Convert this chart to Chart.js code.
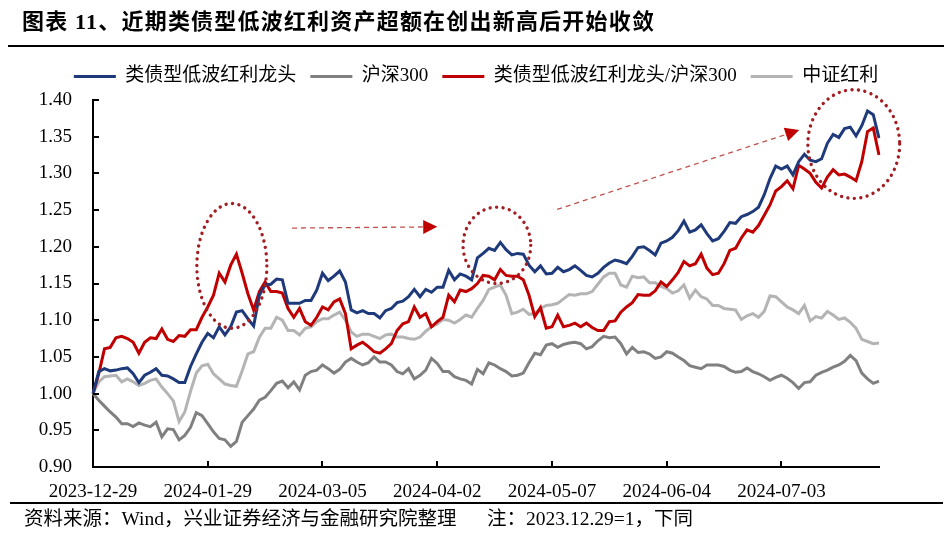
<!DOCTYPE html>
<html>
<head>
<meta charset="utf-8">
<script src="https://cdn.jsdelivr.net/npm/chart.js@4.4.1/dist/chart.umd.min.js"></script>
<style>
    html, body { margin: 0; padding: 0; background: #fff; }
    #wrap { position: relative; width: 952px; height: 535px; overflow: hidden; font-family: 'Liberation Serif', 'Noto Sans CJK SC', serif; color: #000; }
    #title { position: absolute; left: 22px; top: 8px; font-size: 22px; font-weight: bold; letter-spacing: 1.2px; line-height: 28px; white-space: nowrap; }
    .rule { position: absolute; background: #000; }
    #rule1 { left: 8px; width: 936px; top: 45px; height: 2px; }
    #rule2 { left: 10px; width: 933px; top: 502px; height: 1.5px; }
    .note { position: absolute; top: 507px; font-size: 19.5px; line-height: 23px; white-space: nowrap; }
    canvas { position: absolute; left: 0; top: 0; }
</style>
</head>
<body>
<div id="wrap">
    <canvas id="chart" width="952" height="535"></canvas>
    <div id="title">图表 11、近期类债型低波红利资产超额在创出新高后开始收敛</div>
    <div class="rule" id="rule1"></div>
    <div class="rule" id="rule2"></div>
    <div class="note" style="left:24px">资料来源：Wind，兴业证券经济与金融研究院整理</div>
    <div class="note" style="left:487px">注：2023.12.29=1，下同</div>
</div>
<script>
// series values (2023-12-29 = 1)
const bondLikeLowVol = [
    1.000, 1.030, 1.034, 1.031, 1.032, 1.034, 1.035, 1.027, 1.015, 1.025,
    1.029, 1.034, 1.025, 1.024, 1.020, 1.015, 1.015, 1.037, 1.054, 1.070,
    1.082, 1.076, 1.091, 1.080, 1.091, 1.111, 1.113, 1.102, 1.092, 1.134,
    1.148, 1.149, 1.156, 1.155, 1.123, 1.123, 1.123, 1.127, 1.127, 1.141,
    1.164, 1.154, 1.160, 1.167, 1.152, 1.114, 1.110, 1.113, 1.109, 1.109,
    1.103, 1.113, 1.116, 1.124, 1.126, 1.132, 1.142, 1.132, 1.142, 1.138,
    1.145, 1.145, 1.168, 1.155, 1.163, 1.160, 1.155, 1.185, 1.191, 1.198,
    1.195, 1.206, 1.196, 1.189, 1.191, 1.190, 1.175, 1.166, 1.174, 1.163,
    1.164, 1.172, 1.166, 1.169, 1.174, 1.168, 1.161, 1.159, 1.164, 1.172,
    1.178, 1.182, 1.180, 1.177, 1.187, 1.199, 1.200, 1.195, 1.189, 1.205,
    1.208, 1.213, 1.222, 1.235, 1.220, 1.223, 1.230, 1.218, 1.208, 1.211,
    1.221, 1.233, 1.232, 1.241, 1.244, 1.248, 1.254, 1.271, 1.293, 1.310,
    1.306, 1.310, 1.298, 1.316, 1.326, 1.318, 1.316, 1.320, 1.341, 1.353,
    1.349, 1.361, 1.363, 1.351, 1.365, 1.385, 1.380, 1.348
];
const hs300 = [
    1.000, 0.991, 0.983, 0.975, 0.968, 0.959, 0.959, 0.955, 0.960, 0.957,
    0.955, 0.961, 0.941, 0.952, 0.951, 0.937, 0.943, 0.954, 0.974, 0.970,
    0.959, 0.948, 0.939, 0.937, 0.928, 0.935, 0.961, 0.970, 0.979, 0.991,
    0.995, 1.004, 1.014, 1.017, 1.008, 1.016, 1.005, 1.025, 1.030, 1.032,
    1.039, 1.034, 1.028, 1.033, 1.043, 1.048, 1.043, 1.039, 1.042, 1.050,
    1.043, 1.043, 1.039, 1.030, 1.027, 1.034, 1.020, 1.025, 1.032, 1.048,
    1.041, 1.030, 1.030, 1.023, 1.020, 1.018, 1.013, 1.033, 1.027, 1.042,
    1.039, 1.034, 1.030, 1.024, 1.025, 1.028, 1.042, 1.055, 1.053, 1.066,
    1.068, 1.063, 1.067, 1.069, 1.070, 1.068, 1.061, 1.064, 1.072, 1.078,
    1.076, 1.077, 1.068, 1.054, 1.063, 1.056, 1.057, 1.054, 1.048, 1.050,
    1.057, 1.055, 1.050, 1.045, 1.038, 1.036, 1.034, 1.039, 1.039, 1.039,
    1.037, 1.032, 1.029, 1.030, 1.035, 1.030, 1.027, 1.023, 1.018, 1.022,
    1.025, 1.021, 1.015, 1.007, 1.015, 1.016, 1.025, 1.029, 1.032, 1.036,
    1.039, 1.044, 1.052, 1.045, 1.028, 1.020, 1.014, 1.017
];
const relativeToHs300 = [
    1.000, 1.027, 1.061, 1.063, 1.076, 1.078, 1.075, 1.070, 1.055, 1.070,
    1.076, 1.075, 1.088, 1.074, 1.071, 1.079, 1.078, 1.087, 1.087, 1.104,
    1.118, 1.134, 1.164, 1.152, 1.175, 1.190, 1.164, 1.136, 1.114, 1.139,
    1.152, 1.139, 1.139, 1.137, 1.116, 1.104, 1.116, 1.098, 1.093, 1.104,
    1.118, 1.114, 1.125, 1.129, 1.109, 1.061, 1.066, 1.070, 1.064, 1.057,
    1.055, 1.061, 1.068, 1.086, 1.095, 1.098, 1.118, 1.104, 1.109, 1.091,
    1.098, 1.104, 1.134, 1.125, 1.141, 1.139, 1.143, 1.150, 1.161, 1.160,
    1.155, 1.169, 1.161, 1.160, 1.160, 1.155, 1.134, 1.105, 1.117, 1.089,
    1.091, 1.107, 1.091, 1.093, 1.096, 1.091, 1.096, 1.090, 1.086, 1.086,
    1.098, 1.099, 1.111, 1.118, 1.124, 1.135, 1.134, 1.134, 1.140, 1.152,
    1.146, 1.155, 1.165, 1.180, 1.174, 1.177, 1.190, 1.171, 1.162, 1.164,
    1.177, 1.195, 1.198, 1.212, 1.223, 1.220, 1.229, 1.243, 1.257, 1.276,
    1.282, 1.290, 1.279, 1.311, 1.306, 1.300, 1.288, 1.280, 1.295, 1.305,
    1.298, 1.299, 1.295, 1.290, 1.316, 1.357, 1.362, 1.325
];
const csiDividend = [
    1.000, 1.016, 1.023, 1.024, 1.025, 1.016, 1.020, 1.016, 1.011, 1.014,
    1.018, 1.020, 1.009, 1.000, 0.990, 0.962, 0.975, 1.003, 1.028, 1.038,
    1.040, 1.027, 1.020, 1.013, 1.011, 1.010, 1.031, 1.054, 1.057, 1.077,
    1.089, 1.089, 1.104, 1.100, 1.086, 1.086, 1.080, 1.089, 1.091, 1.098,
    1.102, 1.102, 1.107, 1.111, 1.100, 1.084, 1.078, 1.081, 1.081, 1.078,
    1.075, 1.080, 1.081, 1.077, 1.077, 1.075, 1.074, 1.077, 1.085, 1.091,
    1.095, 1.101, 1.100, 1.096, 1.101, 1.107, 1.104, 1.116, 1.127, 1.142,
    1.145, 1.148, 1.134, 1.109, 1.111, 1.115, 1.108, 1.109, 1.116, 1.120,
    1.121, 1.123, 1.129, 1.135, 1.134, 1.136, 1.136, 1.139, 1.149, 1.159,
    1.164, 1.164, 1.148, 1.145, 1.160, 1.158, 1.159, 1.151, 1.151, 1.146,
    1.143, 1.137, 1.140, 1.148, 1.130, 1.141, 1.132, 1.129, 1.120, 1.120,
    1.116, 1.115, 1.114, 1.101, 1.106, 1.109, 1.104, 1.112, 1.133, 1.132,
    1.125, 1.118, 1.114, 1.109, 1.120, 1.099, 1.105, 1.103, 1.112, 1.107,
    1.101, 1.103, 1.097, 1.089, 1.074, 1.071, 1.068, 1.069
];

// x tick labels shown on the axis
const tickDates = ['2023-12-29', '2024-01-29', '2024-03-05', '2024-04-02', '2024-05-07', '2024-06-04', '2024-07-03'];

// trading days (A-share calendar) starting 2023-12-29
const marketHolidays = ['2024-01-01', '2024-02-09', '2024-02-12', '2024-02-13', '2024-02-14', '2024-02-15', '2024-02-16',
    '2024-04-04', '2024-04-05', '2024-05-01', '2024-05-02', '2024-05-03', '2024-06-10'];
const categories = [];
for (let d = new Date(Date.UTC(2023, 11, 29)); categories.length < bondLikeLowVol.length; d.setUTCDate(d.getUTCDate() + 1)) {
    const key = d.toISOString().slice(0, 10);
    const wd = d.getUTCDay();
    if (wd === 0 || wd === 6 || marketHolidays.includes(key)) continue;
    categories.push(key);
}

// annotations, in data units (category index, value)
const highlightEllipses = [
    { x: 24.2, y: 1.174, rx: 6.1, ry: 0.085 },
    { x: 70.4, y: 1.202, rx: 5.9, ry: 0.052 },
    { x: 132.6, y: 1.340, rx: 8.0, ry: 0.074 }
];
const trendArrows = [
    { x0: 34.7, y0: 1.2255, x1: 60.0, y1: 1.2272 },
    { x0: 80.9, y0: 1.251, x1: 123.1, y1: 1.359 }
];

const FONT = "'Liberation Serif', 'Noto Sans CJK SC', serif";

// keep the legend band a fixed height
const legendFit = {
    id: 'legendFit',
    beforeInit(chart) {
        const fit = chart.legend.fit;
        chart.legend.fit = function () {
            fit.call(this);
            this.height = 47;
        };
    }
};

// short inward tick marks on both axes
const innerTicks = {
    id: 'innerTicks',
    afterDraw(chart) {
        const { ctx, chartArea, scales: { x, y } } = chart;
        ctx.save();
        ctx.strokeStyle = '#000';
        ctx.lineWidth = 2;
        ctx.beginPath();
        tickDates.forEach(lbl => {
            const px = Math.round(x.getPixelForValue(categories.indexOf(lbl)));
            ctx.moveTo(px, chartArea.bottom);
            ctx.lineTo(px, chartArea.bottom - 6);
        });
        y.ticks.forEach(t => {
            const py = Math.round(y.getPixelForValue(t.value));
            ctx.moveTo(chartArea.left, py);
            ctx.lineTo(chartArea.left + 6, py);
        });
        ctx.stroke();
        ctx.restore();
    }
};

// dotted ellipses and dashed arrows
const annotations = {
    id: 'annotations',
    afterDatasetsDraw(chart) {
        const { ctx, scales: { x, y } } = chart;
        ctx.save();

        ctx.strokeStyle = '#A31E23';
        ctx.lineWidth = 3.4;
        ctx.lineCap = 'round';
        ctx.setLineDash([0.01, 6.5]);
        highlightEllipses.forEach(e => {
            const cx = x.getPixelForValue(e.x);
            const cy = y.getPixelForValue(e.y);
            const rx = Math.abs(x.getPixelForValue(e.x + e.rx) - cx);
            const ry = Math.abs(y.getPixelForValue(e.y + e.ry) - cy);
            ctx.beginPath();
            ctx.ellipse(cx, cy, rx, ry, 0, 0, Math.PI * 2);
            ctx.stroke();
        });

        trendArrows.forEach(a => {
            const x0 = x.getPixelForValue(a.x0), y0 = y.getPixelForValue(a.y0);
            const x1 = x.getPixelForValue(a.x1), y1 = y.getPixelForValue(a.y1);
            const ang = Math.atan2(y1 - y0, x1 - x0);
            const len = 14, half = 7;
            const bx = x1 - len * Math.cos(ang), by = y1 - len * Math.sin(ang);
            ctx.strokeStyle = '#C0504D';
            ctx.lineWidth = 1.3;
            ctx.lineCap = 'butt';
            ctx.setLineDash([5, 4]);
            ctx.beginPath();
            ctx.moveTo(x0, y0);
            ctx.lineTo(bx, by);
            ctx.stroke();
            ctx.setLineDash([]);
            ctx.fillStyle = '#C00000';
            ctx.beginPath();
            ctx.moveTo(x1, y1);
            ctx.lineTo(bx + half * Math.sin(ang), by - half * Math.cos(ang));
            ctx.lineTo(bx - half * Math.sin(ang), by + half * Math.cos(ang));
            ctx.closePath();
            ctx.fill();
        });
        ctx.restore();
    }
};

const makeSet = (label, data, color) => ({
    label, data,
    borderColor: color,
    backgroundColor: color,
    borderWidth: 3,
    pointRadius: 0,
    tension: 0
});

new Chart(document.getElementById('chart'), {
    type: 'line',
    data: {
        labels: categories,
        datasets: [
            makeSet('类债型低波红利龙头', bondLikeLowVol, '#1F3A7A'),
            makeSet('沪深300', hs300, '#808080'),
            makeSet('类债型低波红利龙头/沪深300', relativeToHs300, '#C00000'),
            makeSet('中证红利', csiDividend, '#B4B4B4')
        ]
    },
    options: {
        responsive: false,
        animation: false,
        layout: { padding: { left: 0, right: 0, top: 53, bottom: 0 } },
        plugins: {
            tooltip: { enabled: false },
            legend: {
                position: 'top',
                align: 'center',
                labels: {
                    boxWidth: 42,
                    boxHeight: 3,
                    padding: 14,
                    color: '#000',
                    font: { family: FONT, size: 19 },
                    generateLabels(chart) {
                        return Chart.defaults.plugins.legend.labels.generateLabels(chart)
                            .map(l => ({ ...l, fillStyle: l.strokeStyle, lineWidth: 0 }));
                    }
                }
            }
        },
        scales: {
            x: {
                grid: { display: true, drawOnChartArea: false, drawTicks: false },
                border: { color: '#000', width: 2 },
                ticks: {
                    autoSkip: false,
                    maxRotation: 0,
                    padding: 14,
                    color: '#000',
                    font: { family: FONT, size: 19 },
                    callback(value, index) {
                        const lbl = categories[index];
                        return tickDates.includes(lbl) ? lbl : null;
                    }
                },
                afterFit(scale) { scale.height = 68; }
            },
            y: {
                min: 0.9,
                max: 1.4,
                grid: { display: true, drawOnChartArea: false, drawTicks: false },
                border: { color: '#000', width: 2 },
                ticks: {
                    stepSize: 0.05,
                    padding: 21,
                    color: '#000',
                    font: { family: FONT, size: 19 },
                    callback: v => v.toFixed(2)
                },
                afterFit(scale) { scale.width = 93; }
            },
            // empty right-hand band so the plot ends where the reference's does
            yRight: {
                position: 'right',
                grid: { display: false },
                border: { display: false },
                ticks: { display: false },
                afterFit(scale) { scale.width = 73; }
            }
        }
    },
    plugins: [legendFit, innerTicks, annotations]
});
</script>
</body>
</html>
